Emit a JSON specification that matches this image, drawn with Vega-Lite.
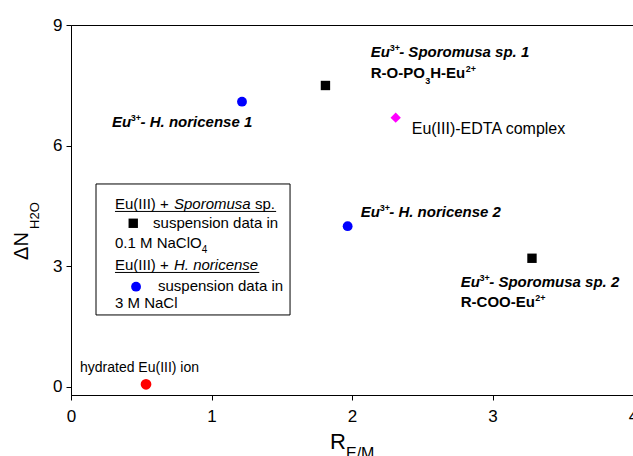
{
  "$schema": "https://vega.github.io/schema/vega-lite/v6.json",
  "width": 562,
  "height": 370,
  "autosize": {"type": "none"},
  "padding": {"left": 71, "top": 25, "right": 0, "bottom": 61},
  "config": {
    "font": "Liberation Sans",
    "view": {"stroke": "#000000", "strokeWidth": 1},
    "axis": {
      "grid": false,
      "domainColor": "#000000",
      "tickColor": "#000000",
      "labelColor": "#000000",
      "labelFont": "Liberation Sans",
      "labelFontSize": 17,
      "tickSize": 5,
      "labelFlush": false,
      "labelOverlap": false,
      "title": null
    },
    "text": {"color": "#000000", "font": "Liberation Sans"}
  },
  "encoding": {
    "x": {"field": "x", "type": "quantitative", "scale": {"domain": [0, 4], "nice": false, "zero": false}, "axis": {"values": [0, 1, 2, 3, 4], "labelPadding": 8}},
    "y": {"field": "y", "type": "quantitative", "scale": {"domain": [-0.2, 9], "nice": false, "zero": false}, "axis": {"values": [0, 3, 6, 9], "labelPadding": 4}}
  },
  "layer": [
    {
      "data": {"values": [{"x": 0.178, "x2": 1.559, "y": 5.047, "y2": 1.79}]},
      "mark": {"type": "rect", "fill": "#ffffff", "stroke": "#000000", "strokeWidth": 1},
      "encoding": {"x2": {"field": "x2"}, "y2": {"field": "y2"}}
    },
    {
      "data": {"values": [{"x": 0.313, "x2": 1.46, "y": 4.364}, {"x": 0.313, "x2": 1.34, "y": 2.847}]},
      "mark": {"type": "rule", "stroke": "#000000", "strokeWidth": 1},
      "encoding": {"x2": {"field": "x2"}}
    },
    {
      "data": {"values": [
        {"x": 1.217, "y": 7.093, "s": "H. noricense"},
        {"x": 1.969, "y": 3.998, "s": "H. noricense"},
        {"x": 0.463, "y": 2.494, "s": "H. noricense"},
        {"x": 1.811, "y": 7.496, "s": "Sporomusa"},
        {"x": 3.281, "y": 3.2, "s": "Sporomusa"},
        {"x": 0.443, "y": 4.07, "s": "Sporomusa"},
        {"x": 2.311, "y": 6.696, "s": "EDTA"},
        {"x": 0.534, "y": 0.067, "s": "hydrated"}
      ]},
      "mark": {"type": "point", "filled": true, "opacity": 1, "strokeWidth": 0},
      "encoding": {
        "color": {"field": "s", "type": "nominal", "legend": null, "scale": {"domain": ["Sporomusa", "H. noricense", "EDTA", "hydrated"], "range": ["#000000", "#0000ff", "#ff00ff", "#ff0000"]}},
        "shape": {"field": "s", "type": "nominal", "legend": null, "scale": {"domain": ["Sporomusa", "H. noricense", "EDTA", "hydrated"], "range": ["square", "circle", "diamond", "circle"]}},
        "size": {"field": "s", "type": "nominal", "legend": null, "scale": {"domain": ["Sporomusa", "H. noricense", "EDTA", "hydrated"], "range": [88, 115, 200, 105]}}
      }
    },
    {
      "data": {"values": [
        {"x": 0.292, "y": 6.464, "t": "Eu"}, {"x": 0.495, "y": 6.464, "t": "- H. noricense 1"},
        {"x": 2.133, "y": 8.212, "t": "Eu"}, {"x": 2.336, "y": 8.212, "t": "- Sporomusa sp. 1"},
        {"x": 2.062, "y": 4.219, "t": "Eu"}, {"x": 2.265, "y": 4.219, "t": "- H. noricense 2"},
        {"x": 2.774, "y": 2.494, "t": "Eu"}, {"x": 2.977, "y": 2.494, "t": "- Sporomusa sp. 2"}
      ]},
      "mark": {"type": "text", "align": "left", "baseline": "alphabetic", "fontSize": 15, "fontStyle": "italic", "fontWeight": "bold"},
      "encoding": {"text": {"field": "t"}}
    },
    {
      "data": {"values": [
        {"x": 0.426, "y": 6.614, "t": "3+"}, {"x": 2.268, "y": 8.362, "t": "3+"},
        {"x": 2.197, "y": 4.369, "t": "3+"}, {"x": 2.908, "y": 2.643, "t": "3+"},
        {"x": 2.521, "y": 7.526, "t": "3"}, {"x": 2.809, "y": 7.824, "t": "2+"},
        {"x": 3.304, "y": 2.138, "t": "2+"}
      ]},
      "mark": {"type": "text", "align": "left", "baseline": "alphabetic", "fontSize": 9, "fontWeight": "bold"},
      "encoding": {"text": {"field": "t"}}
    },
    {
      "data": {"values": [
        {"x": 2.133, "y": 7.675, "t": "R-O-PO"}, {"x": 2.557, "y": 7.675, "t": "H-Eu"},
        {"x": 2.774, "y": 1.989, "t": "R-COO-Eu"}
      ]},
      "mark": {"type": "text", "align": "left", "baseline": "alphabetic", "fontSize": 15, "fontWeight": "bold"},
      "encoding": {"text": {"field": "t"}}
    },
    {
      "data": {"values": [
        {"x": 0.313, "y": 4.426, "t": "Eu(III) +"}, {"x": 1.309, "y": 4.426, "t": "sp."},
        {"x": 0.584, "y": 3.941, "t": "suspension data in"},
        {"x": 0.313, "y": 3.444, "t": "0.1 M NaClO"},
        {"x": 0.313, "y": 2.909, "t": "Eu(III) +"},
        {"x": 0.619, "y": 2.387, "t": "suspension data in"},
        {"x": 0.313, "y": 1.952, "t": "3 M NaCl"}
      ]},
      "mark": {"type": "text", "align": "left", "baseline": "alphabetic", "fontSize": 15},
      "encoding": {"text": {"field": "t"}}
    },
    {
      "data": {"values": [
        {"x": 0.733, "y": 4.426, "t": "Sporomusa"},
        {"x": 0.733, "y": 2.909, "t": "H. noricense"}
      ]},
      "mark": {"type": "text", "align": "left", "baseline": "alphabetic", "fontSize": 15, "fontStyle": "italic"},
      "encoding": {"text": {"field": "t"}}
    },
    {
      "data": {"values": [{"x": 0.93, "y": 3.332, "t": "4"}]},
      "mark": {"type": "text", "align": "left", "baseline": "alphabetic", "fontSize": 10},
      "encoding": {"text": {"field": "t"}}
    },
    {
      "data": {"values": [{"x": 2.425, "y": 6.29, "t": "Eu(III)-EDTA complex"}]},
      "mark": {"type": "text", "align": "left", "baseline": "alphabetic", "fontSize": 16},
      "encoding": {"text": {"field": "t"}}
    },
    {
      "data": {"values": [{"x": 0.064, "y": 0.38, "t": "hydrated Eu(III) ion"}]},
      "mark": {"type": "text", "align": "left", "baseline": "alphabetic", "fontSize": 14},
      "encoding": {"text": {"field": "t"}}
    },
    {
      "data": {"values": [{"x": -0.3025, "y": 3.158, "t": "ΔN"}]},
      "mark": {"type": "text", "align": "left", "baseline": "alphabetic", "fontSize": 20, "angle": 270},
      "encoding": {"text": {"field": "t"}}
    },
    {
      "data": {"values": [{"x": -0.2256, "y": 3.928, "t": "H2O"}]},
      "mark": {"type": "text", "align": "left", "baseline": "alphabetic", "fontSize": 13, "angle": 270},
      "encoding": {"text": {"field": "t"}}
    },
    {
      "data": {"values": [{"x": 1.843, "y": -1.542, "t": "R"}]},
      "mark": {"type": "text", "align": "left", "baseline": "alphabetic", "fontSize": 22},
      "encoding": {"text": {"field": "t"}}
    },
    {
      "data": {"values": [{"x": 1.957, "y": -1.79, "t": "E/M"}]},
      "mark": {"type": "text", "align": "left", "baseline": "alphabetic", "fontSize": 16},
      "encoding": {"text": {"field": "t"}}
    }
  ]
}
